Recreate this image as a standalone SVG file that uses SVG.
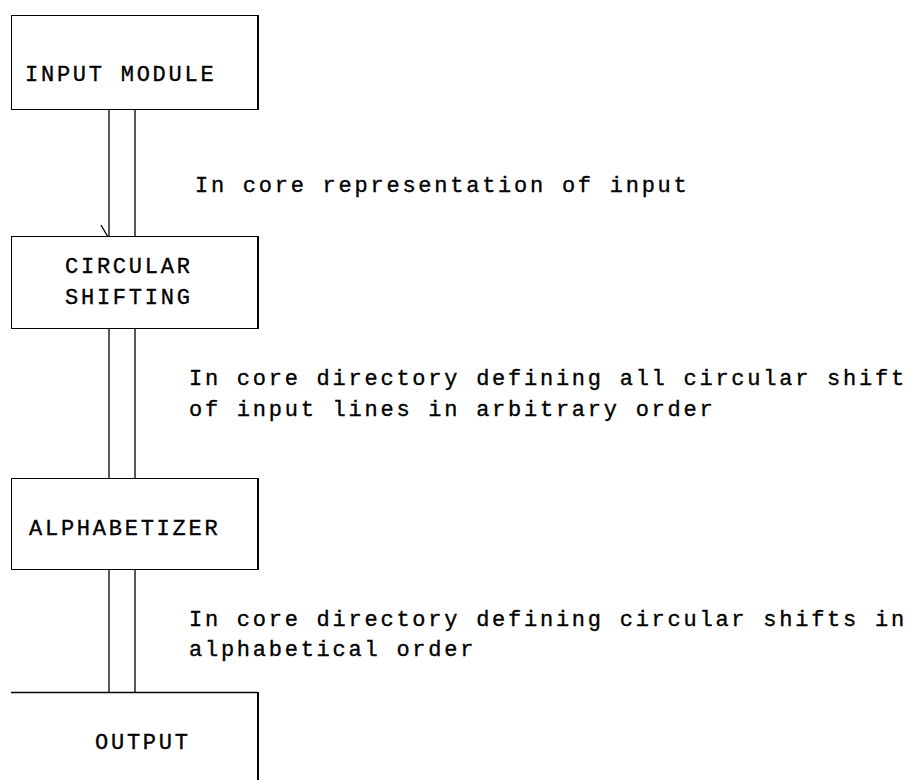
<svg xmlns="http://www.w3.org/2000/svg" width="919" height="780" viewBox="0 0 919 780">
<style>
.box{fill:#fff;stroke:#000;stroke-width:1}
.edge{stroke:#000;stroke-width:2}
.ln{stroke:#000;stroke-width:1.3;fill:none}
text{font-family:"Liberation Mono","Courier New",monospace;font-size:22px;letter-spacing:2.75px;fill:#000;stroke:#000;stroke-width:0.35}
</style>
<rect width="919" height="780" fill="#fff"/>
<g id="connectors">
<line class="ln" x1="109" y1="109" x2="109" y2="236"/>
<line class="ln" x1="135" y1="109" x2="135" y2="236"/>
<line class="ln" x1="101" y1="225" x2="108" y2="237"/>
<line class="ln" x1="109" y1="329" x2="109" y2="478"/>
<line class="ln" x1="135" y1="329" x2="135" y2="478"/>
<line class="ln" x1="109" y1="569" x2="109" y2="692"/>
<line class="ln" x1="135" y1="569" x2="135" y2="692"/>
</g>
<g id="input">
<rect class="box" x="11.5" y="15.5" width="246" height="94"/>
<line class="edge" x1="258" y1="15" x2="258" y2="110"/>
<text x="25" y="81">INPUT MODULE</text>
</g>
<g id="circular">
<rect class="box" x="11.5" y="236.5" width="246" height="92"/>
<line class="edge" x1="258" y1="236" x2="258" y2="329"/>
<text x="65" y="273">CIRCULAR</text>
<text x="65" y="304">SHIFTING</text>
</g>
<g id="alphabetizer">
<rect class="box" x="11.5" y="478.5" width="246" height="91"/>
<line class="edge" x1="258" y1="478" x2="258" y2="570"/>
<text x="29" y="535">ALPHABETIZER</text>
</g>
<g id="output">
<line class="ln" x1="11" y1="692.5" x2="258" y2="692.5"/>
<line class="edge" x1="258" y1="692" x2="258" y2="780"/>
<text x="95" y="749">OUTPUT</text>
</g>
<g id="labels">
<text x="195" y="192">In core representation of input</text>
<text x="189" y="385">In core directory defining all circular shift</text>
<text x="189" y="416">of input lines in arbitrary order</text>
<text x="189" y="626">In core directory defining circular shifts in</text>
<text x="189" y="656">alphabetical order</text>
</g>
</svg>
